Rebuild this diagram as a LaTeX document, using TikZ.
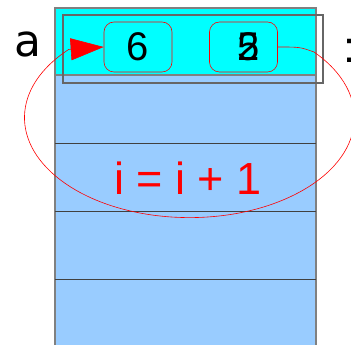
\documentclass[tikz,border=0pt]{standalone}
\usepackage{fontspec}
\setmainfont{Liberation Sans}
\newfontfamily\dejavu{DejaVu Sans}
\usetikzlibrary{arrows.meta}
\definecolor{cellblue}{HTML}{99CCFF}
\definecolor{cellcyan}{HTML}{00FFFF}
\begin{document}
\begin{tikzpicture}[x=1pt,y=1pt,
	valbox/.style={draw=red,line width=.6pt,fill=cellcyan,rounded corners=10pt,minimum width=68pt,minimum height=50pt,inner sep=0pt,font=\fontsize{40}{40}\selectfont},
	incr/.style={red,line width=.6pt,-{Triangle[length=33pt,width=22pt]}}]
	\useasboundingbox(0,0)rectangle(351,345);
	\clip(0,0)rectangle(351,345);
	% the array column
	\draw[gray,line width=1.2pt,fill=cellblue](55,-5)rectangle(316,337);
	\draw[gray,line width=1.2pt,fill=cellcyan](55,270)rectangle(316,337);
	\foreach \y in {202,134,66}
		\draw[black!75](55,\y)--(316,\y);
	\draw[black!60,line width=1.2pt](63,262)rectangle(323,330);
	% the two values
	\node[valbox](six) at (138,298){6};
	\node[valbox](five) at (243.5,298){\hspace{10pt}\rlap{2}5};
	\draw[incr](five.east)..controls(300,298)..(314,293)
		arc[start angle=41,end angle=-223,x radius=165,y radius=100]--(six.west);
	% labels
	\node[font=\dejavu\fontsize{44}{44}\selectfont,anchor=base](arr) at (28,288){a};
	\node[font=\fontsize{44}{44}\selectfont,anchor=base west,inner sep=0pt](idx) at (343,282){:};
	\node[red,font=\fontsize{45}{45}\selectfont,anchor=base](rule) at (188,150){i = i + 1};
\end{tikzpicture}
\end{document}
